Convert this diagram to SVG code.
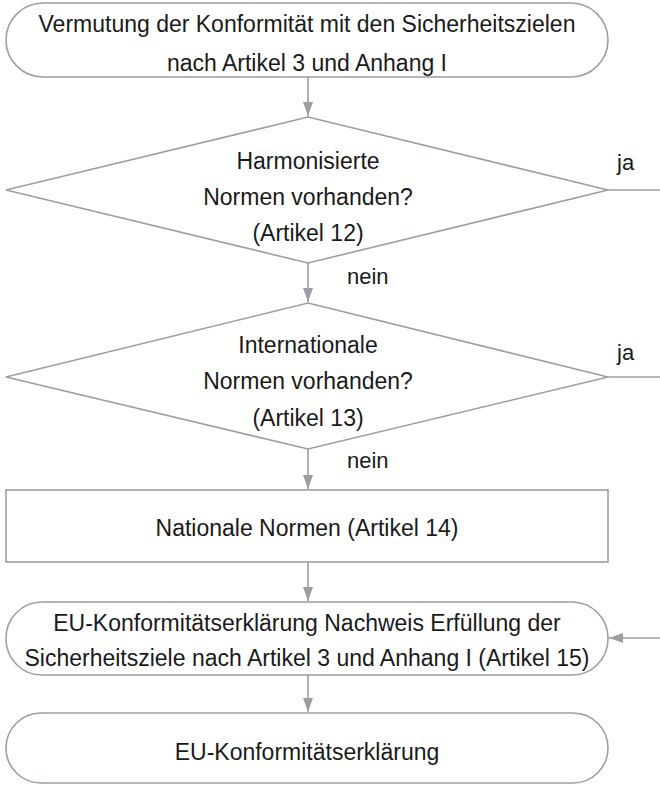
<svg xmlns="http://www.w3.org/2000/svg" width="660" height="787" viewBox="0 0 660 787">
<defs>
<style>
.n{fill:#fff;stroke:#9b9fa3;stroke-width:1.6}
.t{font-family:"Liberation Sans",Arial,sans-serif;font-size:23px;fill:#1a1a1a;text-anchor:middle}
.l{font-family:"Liberation Sans",Arial,sans-serif;font-size:22px;fill:#1a1a1a}
.c{fill:none;stroke:#9b9fa3;stroke-width:1.6}
</style>
<marker id="ah" markerWidth="14" markerHeight="10" viewBox="0 0 14 10" refX="14" refY="5" orient="auto" markerUnits="userSpaceOnUse">
<path d="M0,0 L14,5 L0,10 z" fill="#9b9fa3"/>
</marker>
</defs>
<g id="connectors">
<line class="c" x1="308" y1="77" x2="308" y2="116" marker-end="url(#ah)"/>
<line class="c" x1="308" y1="263" x2="308" y2="302" marker-end="url(#ah)"/>
<line class="c" x1="608" y1="190" x2="660" y2="190"/>
<line class="c" x1="308" y1="449" x2="308" y2="489" marker-end="url(#ah)"/>
<line class="c" x1="608" y1="377" x2="660" y2="377"/>
<line class="c" x1="308" y1="562" x2="308" y2="601" marker-end="url(#ah)"/>
<line class="c" x1="660" y1="638" x2="609" y2="638" marker-end="url(#ah)"/>
<line class="c" x1="308" y1="675" x2="308" y2="712" marker-end="url(#ah)"/>
<text class="l" x="617" y="170">ja</text>
<text class="l" x="347" y="284">nein</text>
<text class="l" x="617" y="360">ja</text>
<text class="l" x="347" y="468">nein</text>
</g>
<g id="start">
<rect class="n" x="6" y="3" width="602" height="74" rx="37"/>
<text class="t" x="307" y="32">Vermutung der Konformität mit den Sicherheitszielen</text>
<text class="t" x="307" y="71">nach Artikel 3 und Anhang I</text>
</g>
<g id="d1">
<polygon class="n" points="308,117 608,190 308,263 6,190"/>
<text class="t" x="308" y="169">Harmonisierte</text>
<text class="t" x="308" y="205">Normen vorhanden?</text>
<text class="t" x="308" y="241">(Artikel 12)</text>
</g>
<g id="d2">
<polygon class="n" points="308,303 608,377 308,449 6,377"/>
<text class="t" x="308" y="353">Internationale</text>
<text class="t" x="308" y="389">Normen vorhanden?</text>
<text class="t" x="308" y="426">(Artikel 13)</text>
</g>
<g id="national">
<rect class="n" x="6" y="490" width="602" height="72"/>
<text class="t" x="307" y="536">Nationale Normen (Artikel 14)</text>
</g>
<g id="nachweis">
<rect class="n" x="6" y="602" width="602" height="73" rx="36"/>
<text class="t" x="307" y="631">EU-Konformitätserklärung Nachweis Erfüllung der</text>
<text class="t" x="307" y="666">Sicherheitsziele nach Artikel 3 und Anhang I (Artikel 15)</text>
</g>
<g id="end">
<rect class="n" x="6" y="713" width="602" height="70" rx="35"/>
<text class="t" x="307" y="760">EU-Konformitätserklärung</text>
</g>
</svg>
